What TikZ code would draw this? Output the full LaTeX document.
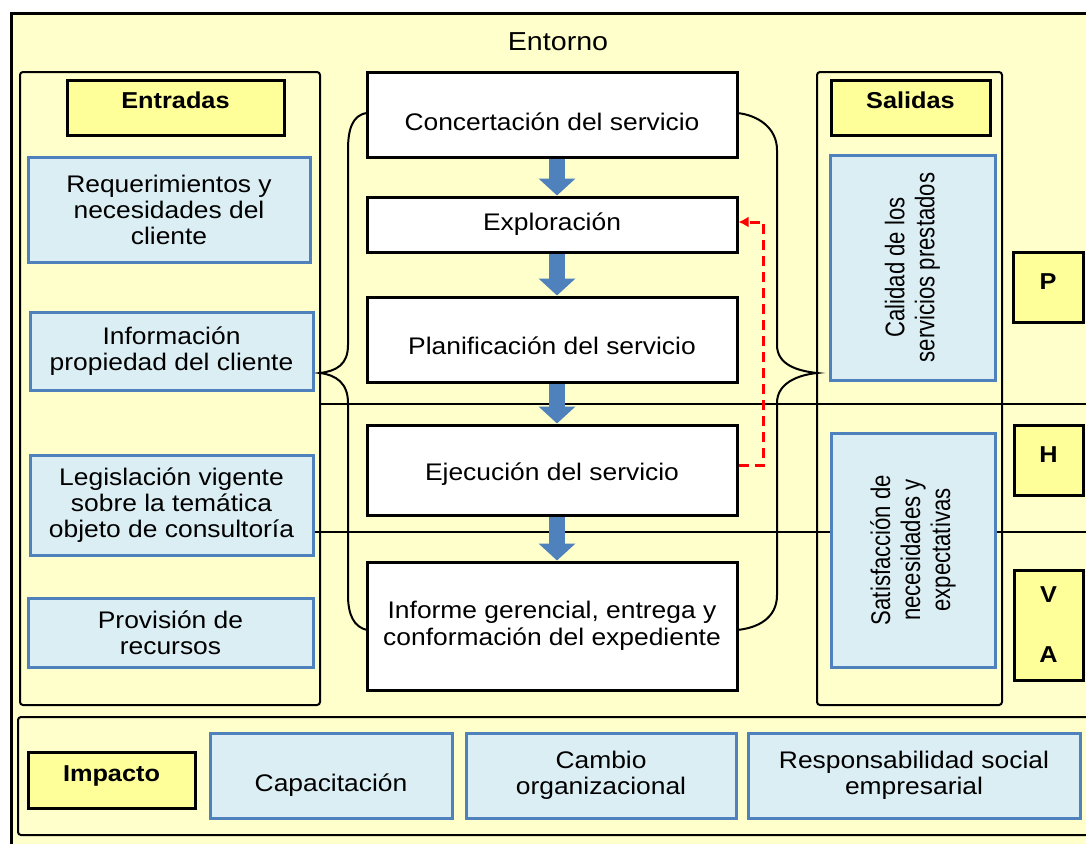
\documentclass[tikz,border=0pt]{standalone}
\usepackage{fontspec}
\setmainfont{Liberation Sans}[FakeStretch=1.1]
\newfontfamily\narrowfont{Liberation Sans}[FakeStretch=0.82]
\usetikzlibrary{arrows.meta}
\definecolor{fondo}{RGB}{255,255,204}
\definecolor{amarillo}{RGB}{255,255,153}
\definecolor{celeste}{RGB}{219,238,244}
\definecolor{azul}{RGB}{79,129,189}
\tikzstyle{pcell} = [rectangle, draw, line width=3pt, fill=white, minimum width=370pt, inner sep=0pt, text centered, align=center, font=\fontsize{24}{27}\selectfont]
\tikzstyle{icell} = [rectangle, draw=azul, line width=3pt, fill=celeste, inner sep=0pt, text centered, align=center, font=\fontsize{24}{26}\selectfont]
\tikzstyle{vcell} = [icell, rotate=90, font=\narrowfont\fontsize{27}{30}\selectfont]
\tikzstyle{lcell} = [rectangle, draw, line width=3pt, fill=amarillo, inner sep=0pt, text centered, align=center, font=\bfseries\fontsize{23}{26}\selectfont]
\tikzstyle{panel} = [draw, line width=2pt, rounded corners=3pt, fill=fondo]
\tikzstyle{line} = [draw, line width=2pt]
\tikzstyle{barrow} = [draw=azul, line width=16pt, -{Triangle[length=17pt,width=36pt]}]
\tikzstyle{fline} = [draw=red, line width=3pt, dash pattern=on 10pt off 6pt, -{Latex[length=10pt,width=11pt]}]

\begin{document}
\begin{tikzpicture}[x=1pt, y=-1pt]
    \useasboundingbox (0,0) rectangle (1086,843);
    \clip (0,0) rectangle (1086,843);
    % marco y paneles
    \draw[line width=3pt, fill=fondo] (11,14) rectangle (1110,855);
    \node[font=\fontsize{26}{28}\selectfont] (entorno) at (558,42) {Entorno};
    \draw[panel] (20,72) rectangle (320,705);
    \draw[panel] (817,72) rectangle (1002,705);
    \draw[panel] (18,717) rectangle (1110,835);

    % llaves
    \path[line] (367,113) .. controls (352,115) and (348,130) .. (348,150) -- (348,345)
        .. controls (348,365) and (336,371) .. (320,373) .. controls (336,375) and (348,383) .. (348,403)
        -- (348,595) .. controls (348,615) and (354,627) .. (367,630);
    \path[line] (737,113) .. controls (758,115) and (777,128) .. (777,150) -- (777,345)
        .. controls (777,365) and (798,371) .. (817,373) .. controls (798,375) and (777,383) .. (777,403)
        -- (777,595) .. controls (777,618) and (758,628) .. (737,630);

    % entradas
    \node[lcell, minimum width=217pt, minimum height=55pt, text depth=14pt] (entradas) at (175.5,107.5) {Entradas};
    \node[icell, minimum width=282pt, minimum height=105pt] (req) at (169,209.5) {Requerimientos y\\necesidades del\\cliente};
    \node[icell, minimum width=283pt, minimum height=78pt] (info) at (171.5,351) {Información\\propiedad del cliente};
    \node[icell, minimum width=283pt, minimum height=100pt] (legis) at (171.5,505) {Legislación vigente\\sobre la temática\\objeto de consultoría};
    \node[icell, minimum width=285pt, minimum height=69pt] (provis) at (170.5,632.5) {Provisión de\\recursos};

    % proceso
    \node[pcell, minimum height=85pt, text height=32pt] (concert) at (552,114.5) {Concertación del servicio};
    \node[pcell, minimum height=55pt] (explor) at (552,224.5) {Exploración};
    \node[pcell, minimum height=85pt, text height=30pt] (planif) at (552,339.5) {Planificación del servicio};
    \node[pcell, minimum height=90pt, text height=26pt] (ejecu) at (552,470) {Ejecución del servicio};
    \node[pcell, minimum height=128pt] (inform) at (552,626) {Informe gerencial, entrega y\\conformación del expediente};

    % salidas
    \node[lcell, minimum width=159pt, minimum height=55pt, text depth=14pt] (salidas) at (910.5,107.5) {Salidas};
    \node[vcell, minimum width=225pt, minimum height=165pt] (calid) at (912.5,267.5) {Calidad de los\\servicios prestados};
    \node[vcell, minimum width=234pt, minimum height=164pt] (satis) at (913,550) {Satisfacción de\\necesidades y\\expectativas};
    \node[lcell, minimum width=70pt, minimum height=70pt, text depth=10pt] (pbox) at (1048,287) {P};
    \node[lcell, minimum width=69pt, minimum height=70pt, text depth=10pt] (hbox) at (1048.5,460) {H};
    \node[lcell, minimum width=69pt, minimum height=110pt] (vabox) at (1048.5,625) {V\\[34pt]A};

    % impacto
    \node[lcell, minimum width=167pt, minimum height=56pt, text depth=13pt] (impacto) at (111.5,780) {Impacto};
    \node[icell, minimum width=242pt, minimum height=85pt, text height=36pt] (capac) at (331,775.5) {Capacitación};
    \node[icell, minimum width=270pt, minimum height=85pt] (cambio) at (601,775.5) {Cambio\\organizacional};
    \node[icell, minimum width=332pt, minimum height=85pt] (respon) at (914,775.5) {Responsabilidad social\\empresarial};

    % lineas PHVA
    \path[line] (320,404) -- (1090,404);
    \path[line] (legis.east |- 0,532) -- (satis.north |- 0,532);
    \path[line] (satis.south |- 0,532) -- (1090,532);

    % flechas
    \path[barrow] ([xshift=5pt]concert.south) -- ([xshift=5pt]explor.north);
    \path[barrow] ([xshift=5pt]explor.south) -- ([xshift=5pt]planif.north);
    \path[barrow] ([xshift=5pt]planif.south) -- ([xshift=5pt]ejecu.north);
    \path[barrow] ([xshift=5pt]ejecu.south) -- ([xshift=5pt]inform.north);
    \path[fline] ([yshift=5pt]ejecu.east) -- ++(25,0) |- ([yshift=2.5pt]explor.east);
\end{tikzpicture}
\end{document}
